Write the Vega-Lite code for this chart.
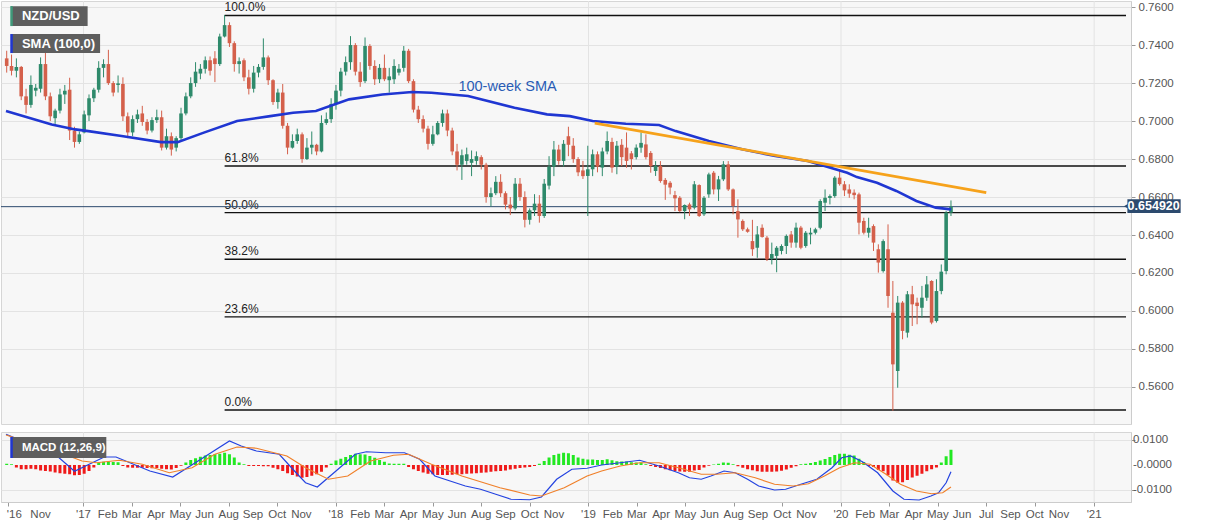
{
  "$schema": "https://vega.github.io/schema/vega-lite/v6.json",
  "background": "white",
  "padding": 0,
  "spacing": 8,
  "bounds": "flush",
  "config": {
    "font": "Liberation Sans",
    "view": {"fill": "#f7f7f7", "stroke": "#d6d6d6"},
    "axis": {"labelFont": "Liberation Sans", "labelFontSize": 11.5, "labelColor": "#555555", "gridColor": "#e3e3e3", "tickColor": "#999999", "domainColor": "#cccccc", "labelOverlap": false, "labelFlush": false, "labelBound": false}
  },
  "datasets": {
    "one": [{}],
    "years": [{"date": "2017-01-01"}, {"date": "2018-01-01"}, {"date": "2019-01-01"}, {"date": "2020-01-01"}, {"date": "2021-01-01"}],
    "xticks": [
      {"date": "2016-09-23", "label": "'16"}, {"date": "2016-10-31", "label": "Nov"},
      {"date": "2017-01-01", "label": "'17"}, {"date": "2017-02-05", "label": "Feb"}, {"date": "2017-03-12", "label": "Mar"}, {"date": "2017-04-16", "label": "Apr"}, {"date": "2017-05-21", "label": "May"}, {"date": "2017-06-25", "label": "Jun"}, {"date": "2017-07-30", "label": "Aug"}, {"date": "2017-09-03", "label": "Sep"}, {"date": "2017-10-08", "label": "Oct"}, {"date": "2017-11-12", "label": "Nov"},
      {"date": "2018-01-01", "label": "'18"}, {"date": "2018-02-05", "label": "Feb"}, {"date": "2018-03-12", "label": "Mar"}, {"date": "2018-04-16", "label": "Apr"}, {"date": "2018-05-21", "label": "May"}, {"date": "2018-06-25", "label": "Jun"}, {"date": "2018-07-30", "label": "Aug"}, {"date": "2018-09-03", "label": "Sep"}, {"date": "2018-10-08", "label": "Oct"}, {"date": "2018-11-12", "label": "Nov"},
      {"date": "2019-01-01", "label": "'19"}, {"date": "2019-02-05", "label": "Feb"}, {"date": "2019-03-12", "label": "Mar"}, {"date": "2019-04-16", "label": "Apr"}, {"date": "2019-05-21", "label": "May"}, {"date": "2019-06-25", "label": "Jun"}, {"date": "2019-07-30", "label": "Aug"}, {"date": "2019-09-03", "label": "Sep"}, {"date": "2019-10-08", "label": "Oct"}, {"date": "2019-11-12", "label": "Nov"},
      {"date": "2020-01-01", "label": "'20"}, {"date": "2020-02-05", "label": "Feb"}, {"date": "2020-03-11", "label": "Mar"}, {"date": "2020-04-15", "label": "Apr"}, {"date": "2020-05-20", "label": "May"}, {"date": "2020-06-24", "label": "Jun"}, {"date": "2020-07-29", "label": "Jul"}, {"date": "2020-09-02", "label": "Sep"}, {"date": "2020-10-07", "label": "Oct"}, {"date": "2020-11-11", "label": "Nov"},
      {"date": "2021-01-01", "label": "'21"}
    ],
    "macdTicks": [{"v": 0.01, "label": "0.0100"}, {"v": 0, "label": "-0.0000"}, {"v": -0.01, "label": "-0.0100"}],
    "fibs": [
      {"label": "100.0%", "price": 0.7556},
      {"label": "61.8%", "price": 0.6763},
      {"label": "50.0%", "price": 0.6518},
      {"label": "38.2%", "price": 0.6272},
      {"label": "23.6%", "price": 0.5969},
      {"label": "0.0%", "price": 0.5479}
    ],
    "trend": [{"date": "2019-01-10", "price": 0.6989}, {"date": "2020-07-29", "price": 0.6623}],
    "sma": [
      {"date": "2016-09-11", "sma": 0.7053}, {"date": "2016-11-16", "sma": 0.6982}, {"date": "2016-12-20", "sma": 0.6956},
      {"date": "2017-01-08", "sma": 0.6947}, {"date": "2017-02-25", "sma": 0.6921}, {"date": "2017-04-23", "sma": 0.6889},
      {"date": "2017-05-17", "sma": 0.6889}, {"date": "2017-06-24", "sma": 0.6939}, {"date": "2017-08-11", "sma": 0.7000},
      {"date": "2017-09-28", "sma": 0.7026}, {"date": "2017-10-31", "sma": 0.7044}, {"date": "2017-12-03", "sma": 0.7053},
      {"date": "2018-01-20", "sma": 0.7114}, {"date": "2018-03-09", "sma": 0.7140}, {"date": "2018-04-21", "sma": 0.7153},
      {"date": "2018-05-19", "sma": 0.7149}, {"date": "2018-07-11", "sma": 0.7132}, {"date": "2018-09-16", "sma": 0.7070},
      {"date": "2018-11-02", "sma": 0.7035}, {"date": "2018-12-05", "sma": 0.7026}, {"date": "2019-01-07", "sma": 0.7000},
      {"date": "2019-02-24", "sma": 0.6986}, {"date": "2019-04-13", "sma": 0.6979}, {"date": "2019-05-07", "sma": 0.6947},
      {"date": "2019-06-24", "sma": 0.6895}, {"date": "2019-08-11", "sma": 0.6851}, {"date": "2019-09-28", "sma": 0.6816},
      {"date": "2019-11-14", "sma": 0.6790}, {"date": "2020-01-10", "sma": 0.6728}, {"date": "2020-01-24", "sma": 0.6705},
      {"date": "2020-02-22", "sma": 0.6675}, {"date": "2020-03-21", "sma": 0.6632}, {"date": "2020-04-19", "sma": 0.6579},
      {"date": "2020-05-17", "sma": 0.6544}, {"date": "2020-06-08", "sma": 0.6535}
    ],
    "macdLines": [
      {"date": "2016-09-11", "series": "MACD", "value": 0.0123}, {"date": "2016-11-21", "series": "MACD", "value": 0.0043},
      {"date": "2016-12-19", "series": "MACD", "value": -0.0025}, {"date": "2017-01-31", "series": "MACD", "value": 0.0032},
      {"date": "2017-02-17", "series": "MACD", "value": 0.0032}, {"date": "2017-04-07", "series": "MACD", "value": -0.0024},
      {"date": "2017-05-10", "series": "MACD", "value": -0.0048}, {"date": "2017-06-23", "series": "MACD", "value": 0.0029},
      {"date": "2017-07-31", "series": "MACD", "value": 0.0096}, {"date": "2017-08-17", "series": "MACD", "value": 0.0076},
      {"date": "2017-09-08", "series": "MACD", "value": 0.0056}, {"date": "2017-10-11", "series": "MACD", "value": 0.0043},
      {"date": "2017-11-02", "series": "MACD", "value": -0.0024}, {"date": "2017-11-18", "series": "MACD", "value": -0.0071},
      {"date": "2017-12-05", "series": "MACD", "value": -0.0088}, {"date": "2018-01-01", "series": "MACD", "value": -0.0024},
      {"date": "2018-01-29", "series": "MACD", "value": 0.0043}, {"date": "2018-02-14", "series": "MACD", "value": 0.0053},
      {"date": "2018-03-14", "series": "MACD", "value": 0.0049}, {"date": "2018-04-10", "series": "MACD", "value": 0.0049},
      {"date": "2018-05-02", "series": "MACD", "value": 0.0023}, {"date": "2018-05-24", "series": "MACD", "value": -0.0044},
      {"date": "2018-06-15", "series": "MACD", "value": -0.0064}, {"date": "2018-07-07", "series": "MACD", "value": -0.0084},
      {"date": "2018-07-29", "series": "MACD", "value": -0.0097}, {"date": "2018-08-20", "series": "MACD", "value": -0.0117},
      {"date": "2018-09-11", "series": "MACD", "value": -0.0137}, {"date": "2018-10-08", "series": "MACD", "value": -0.0139},
      {"date": "2018-10-25", "series": "MACD", "value": -0.0128}, {"date": "2018-11-16", "series": "MACD", "value": -0.0057},
      {"date": "2018-12-08", "series": "MACD", "value": -0.0017}, {"date": "2018-12-30", "series": "MACD", "value": -0.0013},
      {"date": "2019-01-20", "series": "MACD", "value": 0.0000}, {"date": "2019-02-16", "series": "MACD", "value": 0.0009},
      {"date": "2019-03-16", "series": "MACD", "value": 0.0019}, {"date": "2019-04-13", "series": "MACD", "value": -0.0004},
      {"date": "2019-05-11", "series": "MACD", "value": -0.0031}, {"date": "2019-05-27", "series": "MACD", "value": -0.0051},
      {"date": "2019-06-13", "series": "MACD", "value": -0.0057}, {"date": "2019-06-27", "series": "MACD", "value": -0.0044},
      {"date": "2019-07-16", "series": "MACD", "value": -0.0024}, {"date": "2019-08-01", "series": "MACD", "value": -0.0031},
      {"date": "2019-08-19", "series": "MACD", "value": -0.0057}, {"date": "2019-09-04", "series": "MACD", "value": -0.0084},
      {"date": "2019-09-27", "series": "MACD", "value": -0.0100}, {"date": "2019-10-13", "series": "MACD", "value": -0.0097},
      {"date": "2019-11-04", "series": "MACD", "value": -0.0077}, {"date": "2019-11-27", "series": "MACD", "value": -0.0057},
      {"date": "2019-12-19", "series": "MACD", "value": -0.0011}, {"date": "2020-01-02", "series": "MACD", "value": 0.0029},
      {"date": "2020-01-15", "series": "MACD", "value": 0.0036}, {"date": "2020-02-01", "series": "MACD", "value": 0.0013},
      {"date": "2020-02-23", "series": "MACD", "value": -0.0031}, {"date": "2020-03-16", "series": "MACD", "value": -0.0104},
      {"date": "2020-04-01", "series": "MACD", "value": -0.0137}, {"date": "2020-04-23", "series": "MACD", "value": -0.0140},
      {"date": "2020-05-10", "series": "MACD", "value": -0.0124}, {"date": "2020-05-21", "series": "MACD", "value": -0.0111},
      {"date": "2020-06-01", "series": "MACD", "value": -0.0071}, {"date": "2020-06-08", "series": "MACD", "value": -0.0027},
      {"date": "2016-09-11", "series": "Signal", "value": 0.0120}, {"date": "2016-11-21", "series": "Signal", "value": 0.0056},
      {"date": "2016-12-30", "series": "Signal", "value": 0.0016}, {"date": "2017-01-20", "series": "Signal", "value": 0.0009},
      {"date": "2017-02-22", "series": "Signal", "value": 0.0019}, {"date": "2017-03-27", "series": "Signal", "value": 0.0003},
      {"date": "2017-05-05", "series": "Signal", "value": -0.0031}, {"date": "2017-06-07", "series": "Signal", "value": -0.0011},
      {"date": "2017-07-10", "series": "Signal", "value": 0.0043}, {"date": "2017-08-11", "series": "Signal", "value": 0.0072},
      {"date": "2017-09-08", "series": "Signal", "value": 0.0067}, {"date": "2017-10-22", "series": "Signal", "value": 0.0036},
      {"date": "2017-11-18", "series": "Signal", "value": -0.0011}, {"date": "2017-12-21", "series": "Signal", "value": -0.0057},
      {"date": "2018-01-18", "series": "Signal", "value": -0.0044}, {"date": "2018-02-20", "series": "Signal", "value": 0.0016},
      {"date": "2018-03-25", "series": "Signal", "value": 0.0039}, {"date": "2018-04-16", "series": "Signal", "value": 0.0043},
      {"date": "2018-05-19", "series": "Signal", "value": 0.0003}, {"date": "2018-07-02", "series": "Signal", "value": -0.0044},
      {"date": "2018-08-26", "series": "Signal", "value": -0.0091}, {"date": "2018-10-08", "series": "Signal", "value": -0.0120},
      {"date": "2018-10-25", "series": "Signal", "value": -0.0124}, {"date": "2018-11-27", "series": "Signal", "value": -0.0091},
      {"date": "2018-12-30", "series": "Signal", "value": -0.0044}, {"date": "2019-01-20", "series": "Signal", "value": -0.0024},
      {"date": "2019-02-16", "series": "Signal", "value": -0.0004}, {"date": "2019-03-16", "series": "Signal", "value": 0.0009},
      {"date": "2019-04-13", "series": "Signal", "value": 0.0009}, {"date": "2019-05-11", "series": "Signal", "value": -0.0011},
      {"date": "2019-06-13", "series": "Signal", "value": -0.0037}, {"date": "2019-07-05", "series": "Signal", "value": -0.0037},
      {"date": "2019-08-01", "series": "Signal", "value": -0.0031}, {"date": "2019-08-30", "series": "Signal", "value": -0.0051},
      {"date": "2019-09-27", "series": "Signal", "value": -0.0077}, {"date": "2019-10-24", "series": "Signal", "value": -0.0084},
      {"date": "2019-11-15", "series": "Signal", "value": -0.0075}, {"date": "2019-12-08", "series": "Signal", "value": -0.0044},
      {"date": "2019-12-30", "series": "Signal", "value": -0.0011}, {"date": "2020-01-21", "series": "Signal", "value": 0.0009},
      {"date": "2020-02-12", "series": "Signal", "value": 0.0003}, {"date": "2020-03-05", "series": "Signal", "value": -0.0035},
      {"date": "2020-03-27", "series": "Signal", "value": -0.0077}, {"date": "2020-04-19", "series": "Signal", "value": -0.0104},
      {"date": "2020-05-11", "series": "Signal", "value": -0.0115}, {"date": "2020-05-27", "series": "Signal", "value": -0.0111},
      {"date": "2020-06-08", "series": "Signal", "value": -0.0088}
    ],
    "candles": [
      {"date": "2016-09-12", "open": 0.7330, "high": 0.7370, "low": 0.7255, "close": 0.7290, "hist": 0.0005},
      {"date": "2016-09-19", "open": 0.7290, "high": 0.7350, "low": 0.7240, "close": 0.7265, "hist": 0.0003},
      {"date": "2016-09-26", "open": 0.7265, "high": 0.7330, "low": 0.7230, "close": 0.7285, "hist": -0.0010},
      {"date": "2016-10-03", "open": 0.7285, "high": 0.7290, "low": 0.7110, "close": 0.7130, "hist": -0.0017},
      {"date": "2016-10-10", "open": 0.7130, "high": 0.7170, "low": 0.7040, "close": 0.7085, "hist": -0.0017},
      {"date": "2016-10-17", "open": 0.7085, "high": 0.7240, "low": 0.7070, "close": 0.7190, "hist": -0.0015},
      {"date": "2016-10-24", "open": 0.7160, "high": 0.7195, "low": 0.7130, "close": 0.7175, "hist": -0.0017},
      {"date": "2016-10-31", "open": 0.7170, "high": 0.7335, "low": 0.7150, "close": 0.7300, "hist": -0.0022},
      {"date": "2016-11-07", "open": 0.7300, "high": 0.7403, "low": 0.7110, "close": 0.7130, "hist": -0.0024},
      {"date": "2016-11-14", "open": 0.7130, "high": 0.7150, "low": 0.7000, "close": 0.7025, "hist": -0.0026},
      {"date": "2016-11-21", "open": 0.7015, "high": 0.7065, "low": 0.6985, "close": 0.7055, "hist": -0.0030},
      {"date": "2016-11-28", "open": 0.7055, "high": 0.7170, "low": 0.7040, "close": 0.7140, "hist": -0.0033},
      {"date": "2016-12-05", "open": 0.7140, "high": 0.7190, "low": 0.7090, "close": 0.7160, "hist": -0.0035},
      {"date": "2016-12-12", "open": 0.7165, "high": 0.7228, "low": 0.6900, "close": 0.6950, "hist": -0.0037},
      {"date": "2016-12-19", "open": 0.6950, "high": 0.6970, "low": 0.6860, "close": 0.6890, "hist": -0.0041},
      {"date": "2016-12-26", "open": 0.6890, "high": 0.6945, "low": 0.6880, "close": 0.6930, "hist": -0.0040},
      {"date": "2017-01-02", "open": 0.6940, "high": 0.7055, "low": 0.6935, "close": 0.7035, "hist": -0.0035},
      {"date": "2017-01-09", "open": 0.7030, "high": 0.7140, "low": 0.7000, "close": 0.7120, "hist": -0.0024},
      {"date": "2017-01-16", "open": 0.7120, "high": 0.7175, "low": 0.7100, "close": 0.7165, "hist": -0.0010},
      {"date": "2017-01-23", "open": 0.7165, "high": 0.7315, "low": 0.7150, "close": 0.7280, "hist": 0.0010},
      {"date": "2017-01-30", "open": 0.7280, "high": 0.7325, "low": 0.7230, "close": 0.7300, "hist": 0.0013},
      {"date": "2017-02-06", "open": 0.7300, "high": 0.7375, "low": 0.7190, "close": 0.7200, "hist": 0.0014},
      {"date": "2017-02-13", "open": 0.7200, "high": 0.7210, "low": 0.7130, "close": 0.7150, "hist": 0.0012},
      {"date": "2017-02-20", "open": 0.7190, "high": 0.7240, "low": 0.7150, "close": 0.7198, "hist": 0.0011},
      {"date": "2017-02-27", "open": 0.7195, "high": 0.7230, "low": 0.7000, "close": 0.7025, "hist": -0.0004},
      {"date": "2017-03-06", "open": 0.7025, "high": 0.7045, "low": 0.6910, "close": 0.6940, "hist": -0.0010},
      {"date": "2017-03-13", "open": 0.6940, "high": 0.7030, "low": 0.6920, "close": 0.7010, "hist": -0.0011},
      {"date": "2017-03-20", "open": 0.7010, "high": 0.7060, "low": 0.6990, "close": 0.7035, "hist": -0.0011},
      {"date": "2017-03-27", "open": 0.7040, "high": 0.7080, "low": 0.6975, "close": 0.6995, "hist": -0.0011},
      {"date": "2017-04-03", "open": 0.6995, "high": 0.7010, "low": 0.6930, "close": 0.6950, "hist": -0.0012},
      {"date": "2017-04-10", "open": 0.6950, "high": 0.7020, "low": 0.6940, "close": 0.7005, "hist": -0.0013},
      {"date": "2017-04-17", "open": 0.7005, "high": 0.7060, "low": 0.6990, "close": 0.7020, "hist": -0.0012},
      {"date": "2017-04-24", "open": 0.7020, "high": 0.7055, "low": 0.6845, "close": 0.6860, "hist": -0.0015},
      {"date": "2017-05-01", "open": 0.6860, "high": 0.6960, "low": 0.6850, "close": 0.6920, "hist": -0.0017},
      {"date": "2017-05-08", "open": 0.6920, "high": 0.6940, "low": 0.6818, "close": 0.6850, "hist": -0.0018},
      {"date": "2017-05-15", "open": 0.6860, "high": 0.6920, "low": 0.6840, "close": 0.6910, "hist": -0.0012},
      {"date": "2017-05-22", "open": 0.6910, "high": 0.7070, "low": 0.6890, "close": 0.7040, "hist": -0.0003},
      {"date": "2017-05-29", "open": 0.7040, "high": 0.7150, "low": 0.7030, "close": 0.7130, "hist": 0.0010},
      {"date": "2017-06-05", "open": 0.7130, "high": 0.7230, "low": 0.7120, "close": 0.7200, "hist": 0.0020},
      {"date": "2017-06-12", "open": 0.7200, "high": 0.7310, "low": 0.7180, "close": 0.7260, "hist": 0.0027},
      {"date": "2017-06-19", "open": 0.7250, "high": 0.7300, "low": 0.7220, "close": 0.7275, "hist": 0.0033},
      {"date": "2017-06-26", "open": 0.7275, "high": 0.7340, "low": 0.7250, "close": 0.7320, "hist": 0.0038},
      {"date": "2017-07-03", "open": 0.7320, "high": 0.7340, "low": 0.7240, "close": 0.7265, "hist": 0.0040},
      {"date": "2017-07-10", "open": 0.7330, "high": 0.7368, "low": 0.7205, "close": 0.7300, "hist": 0.0043},
      {"date": "2017-07-17", "open": 0.7300, "high": 0.7460, "low": 0.7290, "close": 0.7445, "hist": 0.0045},
      {"date": "2017-07-24", "open": 0.7445, "high": 0.7558, "low": 0.7440, "close": 0.7505, "hist": 0.0049},
      {"date": "2017-07-31", "open": 0.7505, "high": 0.7520, "low": 0.7390, "close": 0.7410, "hist": 0.0043},
      {"date": "2017-08-07", "open": 0.7410, "high": 0.7420, "low": 0.7260, "close": 0.7300, "hist": 0.0030},
      {"date": "2017-08-14", "open": 0.7300, "high": 0.7335, "low": 0.7250, "close": 0.7315, "hist": 0.0010},
      {"date": "2017-08-21", "open": 0.7320, "high": 0.7330, "low": 0.7210, "close": 0.7230, "hist": 0.0003},
      {"date": "2017-08-28", "open": 0.7230, "high": 0.7270, "low": 0.7140, "close": 0.7170, "hist": -0.0004},
      {"date": "2017-09-04", "open": 0.7170, "high": 0.7290, "low": 0.7150, "close": 0.7255, "hist": -0.0004},
      {"date": "2017-09-11", "open": 0.7255, "high": 0.7300, "low": 0.7230, "close": 0.7285, "hist": -0.0004},
      {"date": "2017-09-18", "open": 0.7285, "high": 0.7435, "low": 0.7270, "close": 0.7335, "hist": -0.0005},
      {"date": "2017-09-25", "open": 0.7335, "high": 0.7345, "low": 0.7190, "close": 0.7215, "hist": -0.0005},
      {"date": "2017-10-02", "open": 0.7215, "high": 0.7220, "low": 0.7085, "close": 0.7100, "hist": -0.0011},
      {"date": "2017-10-09", "open": 0.7100, "high": 0.7170, "low": 0.7065, "close": 0.7150, "hist": -0.0017},
      {"date": "2017-10-16", "open": 0.7150, "high": 0.7195, "low": 0.6960, "close": 0.6975, "hist": -0.0024},
      {"date": "2017-10-23", "open": 0.6975, "high": 0.6990, "low": 0.6825, "close": 0.6860, "hist": -0.0033},
      {"date": "2017-10-30", "open": 0.6860, "high": 0.6930, "low": 0.6855, "close": 0.6895, "hist": -0.0040},
      {"date": "2017-11-06", "open": 0.6895, "high": 0.6960, "low": 0.6880, "close": 0.6930, "hist": -0.0046},
      {"date": "2017-11-13", "open": 0.6930, "high": 0.6940, "low": 0.6780, "close": 0.6800, "hist": -0.0051},
      {"date": "2017-11-20", "open": 0.6800, "high": 0.6910, "low": 0.6795, "close": 0.6860, "hist": -0.0048},
      {"date": "2017-11-27", "open": 0.6860, "high": 0.6945, "low": 0.6825, "close": 0.6875, "hist": -0.0043},
      {"date": "2017-12-04", "open": 0.6875, "high": 0.6880, "low": 0.6820, "close": 0.6840, "hist": -0.0037},
      {"date": "2017-12-11", "open": 0.6840, "high": 0.7030, "low": 0.6835, "close": 0.6990, "hist": -0.0027},
      {"date": "2017-12-18", "open": 0.6990, "high": 0.7045, "low": 0.6980, "close": 0.7010, "hist": -0.0010},
      {"date": "2017-12-25", "open": 0.7010, "high": 0.7120, "low": 0.6990, "close": 0.7090, "hist": 0.0005},
      {"date": "2018-01-01", "open": 0.7090, "high": 0.7190, "low": 0.7060, "close": 0.7160, "hist": 0.0018},
      {"date": "2018-01-08", "open": 0.7160, "high": 0.7280, "low": 0.7130, "close": 0.7260, "hist": 0.0025},
      {"date": "2018-01-15", "open": 0.7260, "high": 0.7340, "low": 0.7240, "close": 0.7310, "hist": 0.0032},
      {"date": "2018-01-22", "open": 0.7310, "high": 0.7447, "low": 0.7270, "close": 0.7400, "hist": 0.0040},
      {"date": "2018-01-29", "open": 0.7400, "high": 0.7410, "low": 0.7240, "close": 0.7260, "hist": 0.0045},
      {"date": "2018-02-05", "open": 0.7260, "high": 0.7310, "low": 0.7180, "close": 0.7205, "hist": 0.0043},
      {"date": "2018-02-12", "open": 0.7210, "high": 0.7440, "low": 0.7200, "close": 0.7395, "hist": 0.0042},
      {"date": "2018-02-19", "open": 0.7395, "high": 0.7405, "low": 0.7270, "close": 0.7290, "hist": 0.0036},
      {"date": "2018-02-26", "open": 0.7290, "high": 0.7320, "low": 0.7190, "close": 0.7220, "hist": 0.0029},
      {"date": "2018-03-05", "open": 0.7220, "high": 0.7300, "low": 0.7200, "close": 0.7280, "hist": 0.0020},
      {"date": "2018-03-12", "open": 0.7280, "high": 0.7350, "low": 0.7210, "close": 0.7220, "hist": 0.0013},
      {"date": "2018-03-19", "open": 0.7215, "high": 0.7280, "low": 0.7150, "close": 0.7235, "hist": 0.0006},
      {"date": "2018-03-26", "open": 0.7220, "high": 0.7325, "low": 0.7195, "close": 0.7290, "hist": 0.0005},
      {"date": "2018-04-02", "open": 0.7255, "high": 0.7300, "low": 0.7240, "close": 0.7275, "hist": 0.0005},
      {"date": "2018-04-09", "open": 0.7280, "high": 0.7395, "low": 0.7260, "close": 0.7370, "hist": 0.0005},
      {"date": "2018-04-16", "open": 0.7370, "high": 0.7380, "low": 0.7200, "close": 0.7210, "hist": -0.0008},
      {"date": "2018-04-23", "open": 0.7210, "high": 0.7220, "low": 0.7045, "close": 0.7060, "hist": -0.0017},
      {"date": "2018-04-30", "open": 0.7060, "high": 0.7080, "low": 0.6990, "close": 0.7010, "hist": -0.0024},
      {"date": "2018-05-07", "open": 0.7010, "high": 0.7030, "low": 0.6940, "close": 0.6960, "hist": -0.0030},
      {"date": "2018-05-14", "open": 0.6960, "high": 0.6975, "low": 0.6850, "close": 0.6880, "hist": -0.0035},
      {"date": "2018-05-21", "open": 0.6880, "high": 0.6975, "low": 0.6870, "close": 0.6930, "hist": -0.0037},
      {"date": "2018-05-28", "open": 0.6930, "high": 0.7000, "low": 0.6925, "close": 0.6990, "hist": -0.0040},
      {"date": "2018-06-04", "open": 0.6990, "high": 0.7060, "low": 0.6970, "close": 0.7040, "hist": -0.0040},
      {"date": "2018-06-11", "open": 0.7040, "high": 0.7060, "low": 0.6920, "close": 0.6950, "hist": -0.0040},
      {"date": "2018-06-18", "open": 0.6950, "high": 0.6965, "low": 0.6820, "close": 0.6840, "hist": -0.0039},
      {"date": "2018-06-25", "open": 0.6840, "high": 0.6880, "low": 0.6740, "close": 0.6770, "hist": -0.0037},
      {"date": "2018-07-02", "open": 0.6770, "high": 0.6850, "low": 0.6690, "close": 0.6820, "hist": -0.0037},
      {"date": "2018-07-09", "open": 0.6790, "high": 0.6860, "low": 0.6770, "close": 0.6825, "hist": -0.0035},
      {"date": "2018-07-16", "open": 0.6780, "high": 0.6845, "low": 0.6710, "close": 0.6800, "hist": -0.0034},
      {"date": "2018-07-23", "open": 0.6790, "high": 0.6840, "low": 0.6770, "close": 0.6815, "hist": -0.0033},
      {"date": "2018-07-30", "open": 0.6810, "high": 0.6820, "low": 0.6745, "close": 0.6770, "hist": -0.0031},
      {"date": "2018-08-06", "open": 0.6770, "high": 0.6780, "low": 0.6570, "close": 0.6600, "hist": -0.0030},
      {"date": "2018-08-13", "open": 0.6600, "high": 0.6650, "low": 0.6550, "close": 0.6620, "hist": -0.0027},
      {"date": "2018-08-20", "open": 0.6620, "high": 0.6710, "low": 0.6610, "close": 0.6680, "hist": -0.0025},
      {"date": "2018-08-27", "open": 0.6680, "high": 0.6720, "low": 0.6600, "close": 0.6620, "hist": -0.0024},
      {"date": "2018-09-03", "open": 0.6620, "high": 0.6630, "low": 0.6535, "close": 0.6560, "hist": -0.0022},
      {"date": "2018-09-10", "open": 0.6560, "high": 0.6600, "low": 0.6505, "close": 0.6540, "hist": -0.0018},
      {"date": "2018-09-17", "open": 0.6540, "high": 0.6700, "low": 0.6530, "close": 0.6670, "hist": -0.0015},
      {"date": "2018-09-24", "open": 0.6670, "high": 0.6700, "low": 0.6580, "close": 0.6600, "hist": -0.0012},
      {"date": "2018-10-01", "open": 0.6600, "high": 0.6630, "low": 0.6440, "close": 0.6480, "hist": -0.0010},
      {"date": "2018-10-08", "open": 0.6480, "high": 0.6540, "low": 0.6455, "close": 0.6530, "hist": -0.0008},
      {"date": "2018-10-15", "open": 0.6530, "high": 0.6615, "low": 0.6500, "close": 0.6565, "hist": -0.0004},
      {"date": "2018-10-22", "open": 0.6565, "high": 0.6610, "low": 0.6465, "close": 0.6500, "hist": 0.0005},
      {"date": "2018-10-29", "open": 0.6500, "high": 0.6695, "low": 0.6490, "close": 0.6670, "hist": 0.0016},
      {"date": "2018-11-05", "open": 0.6660, "high": 0.6815, "low": 0.6640, "close": 0.6760, "hist": 0.0030},
      {"date": "2018-11-12", "open": 0.6760, "high": 0.6895, "low": 0.6710, "close": 0.6850, "hist": 0.0040},
      {"date": "2018-11-19", "open": 0.6850, "high": 0.6875, "low": 0.6770, "close": 0.6790, "hist": 0.0045},
      {"date": "2018-11-26", "open": 0.6790, "high": 0.6900, "low": 0.6760, "close": 0.6880, "hist": 0.0049},
      {"date": "2018-12-03", "open": 0.6920, "high": 0.6970, "low": 0.6815, "close": 0.6875, "hist": 0.0047},
      {"date": "2018-12-10", "open": 0.6870, "high": 0.6910, "low": 0.6780, "close": 0.6800, "hist": 0.0040},
      {"date": "2018-12-17", "open": 0.6800, "high": 0.6810, "low": 0.6710, "close": 0.6730, "hist": 0.0030},
      {"date": "2018-12-24", "open": 0.6740, "high": 0.6790, "low": 0.6695, "close": 0.6710, "hist": 0.0025},
      {"date": "2018-12-31", "open": 0.6711, "high": 0.6870, "low": 0.6500, "close": 0.6746, "hist": 0.0022},
      {"date": "2019-01-07", "open": 0.6746, "high": 0.6850, "low": 0.6710, "close": 0.6825, "hist": 0.0022},
      {"date": "2019-01-14", "open": 0.6825, "high": 0.6840, "low": 0.6730, "close": 0.6760, "hist": 0.0020},
      {"date": "2019-01-21", "open": 0.6755, "high": 0.6860, "low": 0.6710, "close": 0.6840, "hist": 0.0020},
      {"date": "2019-01-28", "open": 0.6840, "high": 0.6945, "low": 0.6825, "close": 0.6895, "hist": 0.0023},
      {"date": "2019-02-04", "open": 0.6890, "high": 0.6912, "low": 0.6728, "close": 0.6755, "hist": 0.0019},
      {"date": "2019-02-11", "open": 0.6760, "high": 0.6895, "low": 0.6720, "close": 0.6870, "hist": 0.0015},
      {"date": "2019-02-18", "open": 0.6875, "high": 0.6905, "low": 0.6763, "close": 0.6810, "hist": 0.0014},
      {"date": "2019-02-25", "open": 0.6860, "high": 0.6940, "low": 0.6754, "close": 0.6790, "hist": 0.0014},
      {"date": "2019-03-04", "open": 0.6830, "high": 0.6842, "low": 0.6745, "close": 0.6800, "hist": 0.0011},
      {"date": "2019-03-11", "open": 0.6810, "high": 0.6877, "low": 0.6798, "close": 0.6860, "hist": 0.0010},
      {"date": "2019-03-18", "open": 0.6860, "high": 0.6940, "low": 0.6833, "close": 0.6885, "hist": 0.0010},
      {"date": "2019-03-25", "open": 0.6877, "high": 0.6930, "low": 0.6798, "close": 0.6810, "hist": 0.0003},
      {"date": "2019-04-01", "open": 0.6832, "high": 0.6842, "low": 0.6728, "close": 0.6763, "hist": -0.0004},
      {"date": "2019-04-08", "open": 0.6737, "high": 0.6789, "low": 0.6711, "close": 0.6763, "hist": -0.0008},
      {"date": "2019-04-15", "open": 0.6763, "high": 0.6789, "low": 0.6675, "close": 0.6684, "hist": -0.0012},
      {"date": "2019-04-22", "open": 0.6690, "high": 0.6700, "low": 0.6585, "close": 0.6665, "hist": -0.0017},
      {"date": "2019-04-29", "open": 0.6675, "high": 0.6684, "low": 0.6614, "close": 0.6650, "hist": -0.0021},
      {"date": "2019-05-06", "open": 0.6610, "high": 0.6632, "low": 0.6526, "close": 0.6593, "hist": -0.0024},
      {"date": "2019-05-13", "open": 0.6596, "high": 0.6605, "low": 0.6520, "close": 0.6526, "hist": -0.0026},
      {"date": "2019-05-20", "open": 0.6526, "high": 0.6561, "low": 0.6483, "close": 0.6558, "hist": -0.0027},
      {"date": "2019-05-27", "open": 0.6561, "high": 0.6570, "low": 0.6500, "close": 0.6535, "hist": -0.0027},
      {"date": "2019-06-03", "open": 0.6544, "high": 0.6684, "low": 0.6535, "close": 0.6667, "hist": -0.0022},
      {"date": "2019-06-10", "open": 0.6663, "high": 0.6667, "low": 0.6495, "close": 0.6500, "hist": -0.0020},
      {"date": "2019-06-17", "open": 0.6509, "high": 0.6605, "low": 0.6500, "close": 0.6596, "hist": -0.0010},
      {"date": "2019-06-24", "open": 0.6614, "high": 0.6728, "low": 0.6596, "close": 0.6719, "hist": -0.0003},
      {"date": "2019-07-01", "open": 0.6728, "high": 0.6737, "low": 0.6614, "close": 0.6640, "hist": 0.0002},
      {"date": "2019-07-08", "open": 0.6640, "high": 0.6711, "low": 0.6579, "close": 0.6693, "hist": 0.0005},
      {"date": "2019-07-15", "open": 0.6693, "high": 0.6789, "low": 0.6684, "close": 0.6772, "hist": 0.0010},
      {"date": "2019-07-22", "open": 0.6772, "high": 0.6789, "low": 0.6632, "close": 0.6640, "hist": 0.0009},
      {"date": "2019-07-29", "open": 0.6640, "high": 0.6645, "low": 0.6509, "close": 0.6553, "hist": 0.0003},
      {"date": "2019-08-05", "open": 0.6526, "high": 0.6588, "low": 0.6386, "close": 0.6482, "hist": -0.0005},
      {"date": "2019-08-12", "open": 0.6474, "high": 0.6482, "low": 0.6421, "close": 0.6430, "hist": -0.0011},
      {"date": "2019-08-19", "open": 0.6430, "high": 0.6439, "low": 0.6412, "close": 0.6417, "hist": -0.0017},
      {"date": "2019-08-26", "open": 0.6368, "high": 0.6480, "low": 0.6290, "close": 0.6325, "hist": -0.0021},
      {"date": "2019-09-02", "open": 0.6333, "high": 0.6447, "low": 0.6280, "close": 0.6403, "hist": -0.0025},
      {"date": "2019-09-09", "open": 0.6438, "high": 0.6456, "low": 0.6386, "close": 0.6390, "hist": -0.0027},
      {"date": "2019-09-16", "open": 0.6386, "high": 0.6395, "low": 0.6263, "close": 0.6272, "hist": -0.0027},
      {"date": "2019-09-23", "open": 0.6275, "high": 0.6360, "low": 0.6245, "close": 0.6300, "hist": -0.0027},
      {"date": "2019-09-30", "open": 0.6290, "high": 0.6342, "low": 0.6204, "close": 0.6333, "hist": -0.0026},
      {"date": "2019-10-07", "open": 0.6316, "high": 0.6351, "low": 0.6298, "close": 0.6342, "hist": -0.0023},
      {"date": "2019-10-14", "open": 0.6342, "high": 0.6403, "low": 0.6300, "close": 0.6395, "hist": -0.0018},
      {"date": "2019-10-21", "open": 0.6403, "high": 0.6421, "low": 0.6333, "close": 0.6360, "hist": -0.0011},
      {"date": "2019-10-28", "open": 0.6360, "high": 0.6465, "low": 0.6333, "close": 0.6439, "hist": -0.0005},
      {"date": "2019-11-04", "open": 0.6439, "high": 0.6448, "low": 0.6325, "close": 0.6333, "hist": 0.0003},
      {"date": "2019-11-11", "open": 0.6342, "high": 0.6421, "low": 0.6333, "close": 0.6412, "hist": 0.0005},
      {"date": "2019-11-18", "open": 0.6403, "high": 0.6438, "low": 0.6351, "close": 0.6412, "hist": 0.0008},
      {"date": "2019-11-25", "open": 0.6412, "high": 0.6438, "low": 0.6403, "close": 0.6430, "hist": 0.0012},
      {"date": "2019-12-02", "open": 0.6438, "high": 0.6588, "low": 0.6430, "close": 0.6579, "hist": 0.0018},
      {"date": "2019-12-09", "open": 0.6570, "high": 0.6640, "low": 0.6526, "close": 0.6596, "hist": 0.0024},
      {"date": "2019-12-16", "open": 0.6595, "high": 0.6614, "low": 0.6561, "close": 0.6605, "hist": 0.0032},
      {"date": "2019-12-23", "open": 0.6605, "high": 0.6710, "low": 0.6596, "close": 0.6702, "hist": 0.0040},
      {"date": "2019-12-30", "open": 0.6702, "high": 0.6746, "low": 0.6660, "close": 0.6668, "hist": 0.0045},
      {"date": "2020-01-06", "open": 0.6667, "high": 0.6684, "low": 0.6605, "close": 0.6635, "hist": 0.0045},
      {"date": "2020-01-13", "open": 0.6640, "high": 0.6667, "low": 0.6596, "close": 0.6618, "hist": 0.0041},
      {"date": "2020-01-20", "open": 0.6623, "high": 0.6640, "low": 0.6588, "close": 0.6610, "hist": 0.0038},
      {"date": "2020-01-27", "open": 0.6614, "high": 0.6623, "low": 0.6403, "close": 0.6465, "hist": 0.0025},
      {"date": "2020-02-03", "open": 0.6474, "high": 0.6491, "low": 0.6403, "close": 0.6412, "hist": 0.0012},
      {"date": "2020-02-10", "open": 0.6412, "high": 0.6491, "low": 0.6386, "close": 0.6438, "hist": -0.0004},
      {"date": "2020-02-17", "open": 0.6447, "high": 0.6456, "low": 0.6316, "close": 0.6360, "hist": -0.0008},
      {"date": "2020-02-24", "open": 0.6325, "high": 0.6351, "low": 0.6202, "close": 0.6255, "hist": -0.0020},
      {"date": "2020-03-02", "open": 0.6210, "high": 0.6377, "low": 0.6202, "close": 0.6368, "hist": -0.0025},
      {"date": "2020-03-09", "open": 0.6325, "high": 0.6456, "low": 0.6017, "close": 0.6079, "hist": -0.0041},
      {"date": "2020-03-16", "open": 0.5991, "high": 0.6158, "low": 0.5475, "close": 0.5719, "hist": -0.0062},
      {"date": "2020-03-23", "open": 0.5684, "high": 0.6079, "low": 0.5596, "close": 0.6044, "hist": -0.0071},
      {"date": "2020-03-30", "open": 0.6044, "high": 0.6052, "low": 0.5851, "close": 0.5895, "hist": -0.0069},
      {"date": "2020-04-06", "open": 0.5886, "high": 0.6105, "low": 0.5860, "close": 0.6088, "hist": -0.0060},
      {"date": "2020-04-13", "open": 0.6088, "high": 0.6132, "low": 0.5921, "close": 0.6035, "hist": -0.0050},
      {"date": "2020-04-20", "open": 0.6044, "high": 0.6070, "low": 0.5930, "close": 0.6026, "hist": -0.0043},
      {"date": "2020-04-27", "open": 0.6017, "high": 0.6132, "low": 0.5965, "close": 0.6070, "hist": -0.0035},
      {"date": "2020-05-04", "open": 0.6070, "high": 0.6184, "low": 0.6053, "close": 0.6140, "hist": -0.0025},
      {"date": "2020-05-11", "open": 0.6158, "high": 0.6162, "low": 0.5930, "close": 0.5939, "hist": -0.0017},
      {"date": "2020-05-18", "open": 0.5947, "high": 0.6167, "low": 0.5939, "close": 0.6105, "hist": -0.0010},
      {"date": "2020-05-25", "open": 0.6105, "high": 0.6245, "low": 0.6088, "close": 0.6207, "hist": 0.0010},
      {"date": "2020-06-01", "open": 0.6210, "high": 0.6526, "low": 0.6193, "close": 0.6518, "hist": 0.0035},
      {"date": "2020-06-08", "open": 0.6518, "high": 0.6582, "low": 0.6500, "close": 0.6549, "hist": 0.0061}
    ]
  },
  "vconcat": [
    {
      "width": 1130,
      "height": 423,
      "layer": [
        {
          "data": {"name": "years"},
          "mark": {"type": "rule", "color": "#e3e3e3", "strokeWidth": 1},
          "encoding": {
            "x": {"field": "date", "type": "temporal", "axis": null, "scale": {"type": "utc", "domain": [{"year": 2016, "month": 9, "date": 11, "utc": true}, {"year": 2021, "month": 2, "date": 16, "utc": true}]}}
          }
        },
        {
          "data": {"name": "fibs"},
          "mark": {"type": "rule", "color": "#111111", "strokeWidth": 1.4},
          "encoding": {
            "x": {"datum": {"year": 2017, "month": 7, "date": 24, "utc": true}, "type": "temporal", "axis": null},
            "x2": {"datum": {"year": 2021, "month": 2, "date": 16, "utc": true}},
            "y": {"field": "price", "type": "quantitative", "title": null, "scale": {"domain": [0.5405, 0.7632], "zero": false, "nice": false}}
          }
        },
        {
          "data": {"name": "fibs"},
          "mark": {"type": "text", "align": "left", "baseline": "bottom", "dy": -1, "fontSize": 12, "color": "#222222"},
          "encoding": {
            "x": {"datum": {"year": 2017, "month": 7, "date": 24, "utc": true}, "type": "temporal", "axis": null},
            "y": {"field": "price", "type": "quantitative", "title": null},
            "text": {"field": "label"}
          }
        },
        {
          "data": {"name": "one"},
          "mark": {"type": "rule", "color": "#2c4a6e", "strokeWidth": 1},
          "encoding": {
            "y": {"datum": 0.65492, "type": "quantitative", "title": null}
          }
        },
        {
          "data": {"name": "candles"},
          "mark": {"type": "rule", "strokeWidth": 1, "clip": true},
          "encoding": {
            "x": {"field": "date", "type": "temporal", "axis": null},
            "y": {"field": "low", "type": "quantitative", "title": null},
            "y2": {"field": "high"},
            "color": {"condition": {"test": "datum.close >= datum.open", "value": "#2e8a6b"}, "value": "#d4604b"}
          }
        },
        {
          "data": {"name": "candles"},
          "mark": {"type": "bar", "size": 3.6, "clip": true},
          "encoding": {
            "x": {"field": "date", "type": "temporal", "axis": null},
            "y": {"field": "open", "type": "quantitative", "title": null, "axis": {"orient": "right", "values": [0.56, 0.58, 0.6, 0.62, 0.64, 0.66, 0.68, 0.7, 0.72, 0.74, 0.76], "format": ".4f", "grid": true, "tickSize": 4, "labelPadding": 3, "domain": true, "title": null, "labelOverlap": false}},
            "y2": {"field": "close"},
            "color": {"condition": {"test": "datum.close >= datum.open", "value": "#2e8a6b"}, "value": "#d4604b"}
          }
        },
        {
          "data": {"name": "sma"},
          "mark": {"type": "line", "color": "#1f36d2", "strokeWidth": 2.6, "clip": true},
          "encoding": {
            "x": {"field": "date", "type": "temporal", "axis": null},
            "y": {"field": "sma", "type": "quantitative", "title": null}
          }
        },
        {
          "data": {"name": "trend"},
          "mark": {"type": "line", "color": "#f6a21b", "strokeWidth": 2.6},
          "encoding": {
            "x": {"field": "date", "type": "temporal", "axis": null},
            "y": {"field": "price", "type": "quantitative", "title": null}
          }
        },
        {
          "data": {"name": "one"},
          "mark": {"type": "text", "text": "100-week SMA", "align": "left", "baseline": "middle", "fontSize": 14.5, "color": "#2a5cb5"},
          "encoding": {
            "x": {"datum": {"year": 2018, "month": 6, "date": 27, "utc": true}, "type": "temporal", "axis": null},
            "y": {"datum": 0.7179, "type": "quantitative", "title": null}
          }
        },
        {
          "data": {"name": "one"},
          "mark": {"type": "rect", "color": "#5e5e5e"},
          "encoding": {
            "x": {"datum": {"year": 2016, "month": 9, "date": 18, "utc": true}, "type": "temporal", "axis": null},
            "x2": {"datum": {"year": 2017, "month": 1, "date": 7, "utc": true}},
            "y": {"datum": 0.7605, "type": "quantitative", "title": null},
            "y2": {"datum": 0.75}
          }
        },
        {
          "data": {"name": "one"},
          "mark": {"type": "rect", "color": "#5e5e5e"},
          "encoding": {
            "x": {"datum": {"year": 2016, "month": 9, "date": 18, "utc": true}, "type": "temporal", "axis": null},
            "x2": {"datum": {"year": 2017, "month": 1, "date": 25, "utc": true}},
            "y": {"datum": 0.7458, "type": "quantitative", "title": null},
            "y2": {"datum": 0.7358}
          }
        },
        {
          "data": {"name": "one"},
          "mark": {"type": "rule", "color": "#3f9a7a", "strokeWidth": 2.5},
          "encoding": {
            "x": {"datum": {"year": 2016, "month": 9, "date": 19, "utc": true}, "type": "temporal", "axis": null},
            "y": {"datum": 0.7605, "type": "quantitative", "title": null},
            "y2": {"datum": 0.75}
          }
        },
        {
          "data": {"name": "one"},
          "mark": {"type": "rule", "color": "#1f36d2", "strokeWidth": 2.5},
          "encoding": {
            "x": {"datum": {"year": 2016, "month": 9, "date": 19, "utc": true}, "type": "temporal", "axis": null},
            "y": {"datum": 0.7458, "type": "quantitative", "title": null},
            "y2": {"datum": 0.7358}
          }
        },
        {
          "data": {"name": "one"},
          "mark": {"type": "text", "text": "NZD/USD", "align": "left", "baseline": "middle", "fontSize": 13, "fontWeight": "bold", "color": "white"},
          "encoding": {
            "x": {"datum": {"year": 2016, "month": 10, "date": 4, "utc": true}, "type": "temporal", "axis": null},
            "y": {"datum": 0.7553, "type": "quantitative", "title": null}
          }
        },
        {
          "data": {"name": "one"},
          "mark": {"type": "text", "text": "SMA (100,0)", "align": "left", "baseline": "middle", "fontSize": 13, "fontWeight": "bold", "color": "white"},
          "encoding": {
            "x": {"datum": {"year": 2016, "month": 10, "date": 4, "utc": true}, "type": "temporal", "axis": null},
            "y": {"datum": 0.7407, "type": "quantitative", "title": null}
          }
        },
        {
          "data": {"name": "one"},
          "mark": {"type": "rect", "color": "#2c4a6e", "clip": false},
          "encoding": {
            "x": {"datum": {"year": 2021, "month": 2, "date": 18, "utc": true}, "type": "temporal", "axis": null},
            "x2": {"datum": {"year": 2021, "month": 5, "date": 6, "utc": true}},
            "y": {"datum": 0.6588, "type": "quantitative", "title": null},
            "y2": {"datum": 0.6516}
          }
        },
        {
          "data": {"name": "one"},
          "mark": {"type": "point", "shape": "triangle-left", "size": 40, "filled": true, "opacity": 1, "color": "#2c4a6e", "clip": false},
          "encoding": {
            "x": {"datum": {"year": 2021, "month": 2, "date": 17, "utc": true}, "type": "temporal", "axis": null},
            "y": {"datum": 0.6552, "type": "quantitative", "title": null}
          }
        },
        {
          "data": {"name": "one"},
          "mark": {"type": "text", "text": "0.654920", "align": "center", "baseline": "middle", "fontSize": 12.5, "fontWeight": "bold", "color": "white", "clip": false},
          "encoding": {
            "x": {"datum": {"year": 2021, "month": 3, "date": 28, "utc": true}, "type": "temporal", "axis": null},
            "y": {"datum": 0.6552, "type": "quantitative", "title": null}
          }
        }
      ]
    },
    {
      "width": 1130,
      "height": 70,
      "layer": [
        {
          "data": {"name": "years"},
          "mark": {"type": "rule", "color": "#e3e3e3", "strokeWidth": 1},
          "encoding": {
            "x": {"field": "date", "type": "temporal", "title": null, "scale": {"type": "utc", "domain": [{"year": 2016, "month": 9, "date": 11, "utc": true}, {"year": 2021, "month": 2, "date": 16, "utc": true}]}}
          }
        },
        {
          "data": {"name": "candles"},
          "mark": {"type": "bar", "size": 3, "clip": true},
          "encoding": {
            "x": {
              "field": "date", "type": "temporal", "title": null,
              "axis": {
                "orient": "bottom", "grid": false, "tickSize": 4, "labels": false, "title": null,
                "values": [
                  {"year": 2016, "month": 9, "date": 14, "utc": true}, {"year": 2016, "month": 10, "date": 31, "utc": true},
                  {"year": 2017, "month": 1, "date": 1, "utc": true}, {"year": 2017, "month": 2, "date": 5, "utc": true}, {"year": 2017, "month": 3, "date": 12, "utc": true}, {"year": 2017, "month": 4, "date": 16, "utc": true}, {"year": 2017, "month": 5, "date": 21, "utc": true}, {"year": 2017, "month": 6, "date": 25, "utc": true}, {"year": 2017, "month": 7, "date": 30, "utc": true}, {"year": 2017, "month": 9, "date": 3, "utc": true}, {"year": 2017, "month": 10, "date": 8, "utc": true}, {"year": 2017, "month": 11, "date": 12, "utc": true},
                  {"year": 2018, "month": 1, "date": 1, "utc": true}, {"year": 2018, "month": 2, "date": 5, "utc": true}, {"year": 2018, "month": 3, "date": 12, "utc": true}, {"year": 2018, "month": 4, "date": 16, "utc": true}, {"year": 2018, "month": 5, "date": 21, "utc": true}, {"year": 2018, "month": 6, "date": 25, "utc": true}, {"year": 2018, "month": 7, "date": 30, "utc": true}, {"year": 2018, "month": 9, "date": 3, "utc": true}, {"year": 2018, "month": 10, "date": 8, "utc": true}, {"year": 2018, "month": 11, "date": 12, "utc": true},
                  {"year": 2019, "month": 1, "date": 1, "utc": true}, {"year": 2019, "month": 2, "date": 5, "utc": true}, {"year": 2019, "month": 3, "date": 12, "utc": true}, {"year": 2019, "month": 4, "date": 16, "utc": true}, {"year": 2019, "month": 5, "date": 21, "utc": true}, {"year": 2019, "month": 6, "date": 25, "utc": true}, {"year": 2019, "month": 7, "date": 30, "utc": true}, {"year": 2019, "month": 9, "date": 3, "utc": true}, {"year": 2019, "month": 10, "date": 8, "utc": true}, {"year": 2019, "month": 11, "date": 12, "utc": true},
                  {"year": 2020, "month": 1, "date": 1, "utc": true}, {"year": 2020, "month": 2, "date": 5, "utc": true}, {"year": 2020, "month": 3, "date": 11, "utc": true}, {"year": 2020, "month": 4, "date": 15, "utc": true}, {"year": 2020, "month": 5, "date": 20, "utc": true}, {"year": 2020, "month": 6, "date": 24, "utc": true}, {"year": 2020, "month": 7, "date": 29, "utc": true}, {"year": 2020, "month": 9, "date": 2, "utc": true}, {"year": 2020, "month": 10, "date": 7, "utc": true}, {"year": 2020, "month": 11, "date": 11, "utc": true},
                  {"year": 2021, "month": 1, "date": 1, "utc": true}
                ]
              }
            },
            "y": {
              "field": "hist", "type": "quantitative", "title": null,
              "scale": {"domain": [-0.0148, 0.0132], "zero": false, "nice": false},
              "axis": {"orient": "right", "values": [-0.01, 0, 0.01], "grid": true, "tickSize": 4, "labels": false, "title": null}
            },
            "y2": {"datum": 0},
            "color": {"condition": {"test": "datum.hist >= 0", "value": "#22e822"}, "value": "#ef1a1a"}
          }
        },
        {
          "data": {"name": "macdLines"},
          "mark": {"type": "line", "strokeWidth": 1.2, "clip": true},
          "encoding": {
            "x": {"field": "date", "type": "temporal", "title": null},
            "y": {"field": "value", "type": "quantitative", "title": null},
            "color": {"field": "series", "type": "nominal", "legend": null, "scale": {"domain": ["MACD", "Signal"], "range": ["#2443e0", "#f0802a"]}}
          }
        },
        {
          "data": {"name": "one"},
          "mark": {"type": "rect", "color": "#5e5e5e"},
          "encoding": {
            "x": {"datum": {"year": 2016, "month": 9, "date": 18, "utc": true}, "type": "temporal", "title": null},
            "x2": {"datum": {"year": 2017, "month": 2, "date": 3, "utc": true}},
            "y": {"datum": 0.0112, "type": "quantitative", "title": null},
            "y2": {"datum": 0.0028}
          }
        },
        {
          "data": {"name": "one"},
          "mark": {"type": "rule", "color": "#1f36d2", "strokeWidth": 2.5},
          "encoding": {
            "x": {"datum": {"year": 2016, "month": 9, "date": 19, "utc": true}, "type": "temporal", "title": null},
            "y": {"datum": 0.0112, "type": "quantitative", "title": null},
            "y2": {"datum": 0.0028}
          }
        },
        {
          "data": {"name": "one"},
          "mark": {"type": "text", "text": "MACD (12,26,9)", "align": "left", "baseline": "middle", "fontSize": 11.5, "fontWeight": "bold", "color": "white"},
          "encoding": {
            "x": {"datum": {"year": 2016, "month": 10, "date": 4, "utc": true}, "type": "temporal", "title": null},
            "y": {"datum": 0.0069, "type": "quantitative", "title": null}
          }
        },
        {
          "data": {"name": "xticks"},
          "mark": {"type": "text", "align": "center", "baseline": "top", "dy": 7, "fontSize": 11.5, "color": "#555555", "clip": false},
          "encoding": {
            "x": {"field": "date", "type": "temporal", "title": null},
            "y": {"datum": -0.0148, "type": "quantitative", "title": null},
            "text": {"field": "label"}
          }
        },
        {
          "data": {"name": "macdTicks"},
          "mark": {"type": "text", "align": "left", "baseline": "middle", "dx": 7, "fontSize": 11.5, "color": "#555555", "clip": false},
          "encoding": {
            "x": {"datum": {"year": 2021, "month": 2, "date": 16, "utc": true}, "type": "temporal", "title": null},
            "y": {"field": "v", "type": "quantitative", "title": null},
            "text": {"field": "label"}
          }
        }
      ]
    }
  ]
}
